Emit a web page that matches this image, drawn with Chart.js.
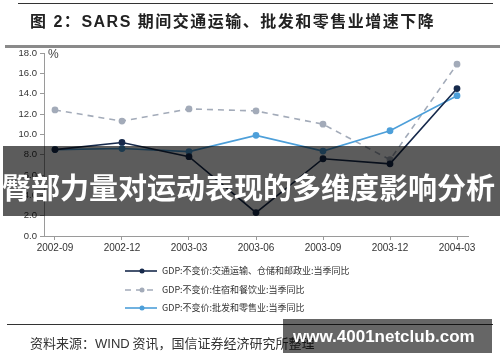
<!DOCTYPE html>
<html>
<head>
<meta charset="utf-8">
<script src="https://cdn.jsdelivr.net/npm/chart.js@4"></script>
<style>
  html, body { margin: 0; padding: 0; background: #fff; }
  #wrap { position: relative; width: 500px; height: 362px; overflow: hidden; background: #fff; }
  #c { position: absolute; left: 0; top: 0; }
  .abs { position: absolute; white-space: nowrap; }
  #topline { left: 18px; top: 3px; width: 475px; height: 1px; background: #333; }
  #title { left: 30px; top: 9px; font: bold 16px "Liberation Sans", "Noto Sans CJK SC", sans-serif; letter-spacing: 1.5px; color: #222; line-height: 22px; }
  #title .cjk { font-family: "Noto Sans CJK SC", sans-serif; }
  #thick { left: 5px; top: 45px; width: 495px; height: 3px; background: #8a8a8a; }
  #pct { left: 48px; top: 47px; font: 12px "Liberation Sans", Arial, sans-serif; color: #444; }
  #botline { left: 7px; top: 324px; width: 486px; height: 1px; background: #333; }
  #source { left: 30px; top: 334px; font: 13px "Noto Sans CJK SC", sans-serif; color: #333; line-height: 18px; }
  #source .lat { font-family: "Liberation Sans", Arial, sans-serif; }
  #banner { left: 3px; top: 146px; width: 497px; height: 70px; background: rgba(0,0,0,0.64); }
  #bannertext { left: 2px; top: 167px; font: bold 29px "Noto Sans CJK SC", sans-serif; color: #fff; line-height: 38px; letter-spacing: 0px; }
  #wm { left: 283px; top: 319px; width: 209px; height: 34px; background: rgba(0,0,0,0.6); }
  #wmtext { left: 293px; top: 326px; font: bold 17px "Liberation Sans", Arial, sans-serif; color: #fff; line-height: 22px; }
</style>
</head>
<body>
<div id="wrap">
  <canvas id="c" width="500" height="362"></canvas>
  <div class="abs" id="topline"></div>
  <div class="abs" id="title"><span class="cjk">图</span> 2<span class="cjk">：</span>SARS <span class="cjk">期间交通运输、批发和零售业增速下降</span></div>
  <div class="abs" id="thick"></div>
  <div class="abs" id="pct">%</div>
  <div class="abs" id="botline"></div>
  <div class="abs" id="source">资料来源：<span class="lat">WIND</span> 资讯，国信证券经济研究所整理</div>
  <div class="abs" id="banner"></div>
  <div class="abs" id="bannertext">臀部力量对运动表现的多维度影响分析</div>
  <div class="abs" id="wm"></div>
  <div class="abs" id="wmtext">www.4001netclub.com</div>
</div>
<script>
const categories = ["2002-09", "2002-12", "2003-03", "2003-06", "2003-09", "2003-12", "2004-03"];
const transport = [8.5, 9.2, 7.8, 2.3, 7.6, 7.1, 14.5];
const hotel = [12.4, 11.3, 12.5, 12.3, 11.0, 7.5, 16.9];
const retail = [8.5, 8.6, 8.3, 9.9, 8.35, 10.35, 13.8];
const seriesNames = [
  "GDP:不变价:交通运输、仓储和邮政业:当季同比",
  "GDP:不变价:住宿和餐饮业:当季同比",
  "GDP:不变价:批发和零售业:当季同比"
];
const yTicks = [0, 2, 4, 6, 8, 10, 12, 14, 16, 18];

function toPts(arr) { return arr.map((v, i) => ({ x: i, y: v })); }

const legendPlugin = {
  id: 'customLegend',
  afterDraw(chart) {
    const ctx = chart.ctx;
    const rows = [271, 290, 308];
    ctx.save();
    chart.data.datasets.forEach((ds, i) => {
      const y = rows[i];
      ctx.strokeStyle = ds.borderColor;
      ctx.lineWidth = 1.6;
      ctx.setLineDash(ds.borderDash || []);
      ctx.beginPath();
      ctx.moveTo(125, y);
      ctx.lineTo(157, y);
      ctx.stroke();
      ctx.setLineDash([]);
      ctx.fillStyle = ds.pointBackgroundColor;
      ctx.beginPath();
      ctx.arc(142, y, 2.5, 0, Math.PI * 2);
      ctx.fill();
      ctx.fillStyle = '#333';
      ctx.font = '9px "Noto Sans CJK SC", sans-serif';
      ctx.textBaseline = 'middle';
      ctx.textAlign = 'left';
      ctx.fillText(seriesNames[i], 162, y);
    });
    ctx.restore();
  }
};

new Chart(document.getElementById('c'), {
  type: 'line',
  data: {
    datasets: [
      { label: seriesNames[0], data: toPts(transport), borderColor: '#172a4c', pointBackgroundColor: '#172a4c', pointBorderColor: '#172a4c', borderWidth: 1.6, pointRadius: 2.6, tension: 0, order: 1 },
      { label: seriesNames[1], data: toPts(hotel), borderColor: '#a3abb9', pointBackgroundColor: '#a3abb9', pointBorderColor: '#a3abb9', borderWidth: 1.6, borderDash: [6, 5], pointRadius: 2.6, tension: 0, order: 3 },
      { label: seriesNames[2], data: toPts(retail), borderColor: '#4d9fd9', pointBackgroundColor: '#4d9fd9', pointBorderColor: '#4d9fd9', borderWidth: 1.6, pointRadius: 2.6, tension: 0, order: 2 }
    ]
  },
  options: {
    responsive: false,
    devicePixelRatio: 1,
    animation: false,
    layout: { padding: { left: 0, top: 53, right: 32, bottom: 106 } },
    plugins: { legend: { display: false }, tooltip: { enabled: false } },
    scales: {
      x: {
        type: 'linear',
        min: -0.164,
        max: 6.164,
        afterBuildTicks(scale) { scale.ticks = categories.map((c, i) => ({ value: i })); },
        afterFit(scale) { scale.height = 20; },
        ticks: {
          callback: (v) => categories[v] !== undefined ? categories[v] : '',
          color: '#333',
          font: { family: '"Liberation Sans", Arial, sans-serif', size: 10 },
          maxRotation: 0,
          autoSkip: false,
          padding: 2
        },
        grid: { drawOnChartArea: false, drawTicks: true, tickLength: 4, color: '#9a9a9a' },
        border: { color: '#9a9a9a', width: 1 }
      },
      y: {
        min: 0,
        max: 18,
        afterBuildTicks(scale) { scale.ticks = yTicks.map(v => ({ value: v })); },
        afterFit(scale) { scale.width = 44; },
        ticks: {
          callback: (v) => v.toFixed(1),
          color: '#333',
          font: { family: '"Liberation Sans", Arial, sans-serif', size: 9.5 },
          padding: 3
        },
        grid: { drawOnChartArea: false, drawTicks: true, tickLength: 4, color: '#9a9a9a' },
        border: { color: '#9a9a9a', width: 1 }
      }
    }
  },
  plugins: [legendPlugin]
});
</script>
</body>
</html>
